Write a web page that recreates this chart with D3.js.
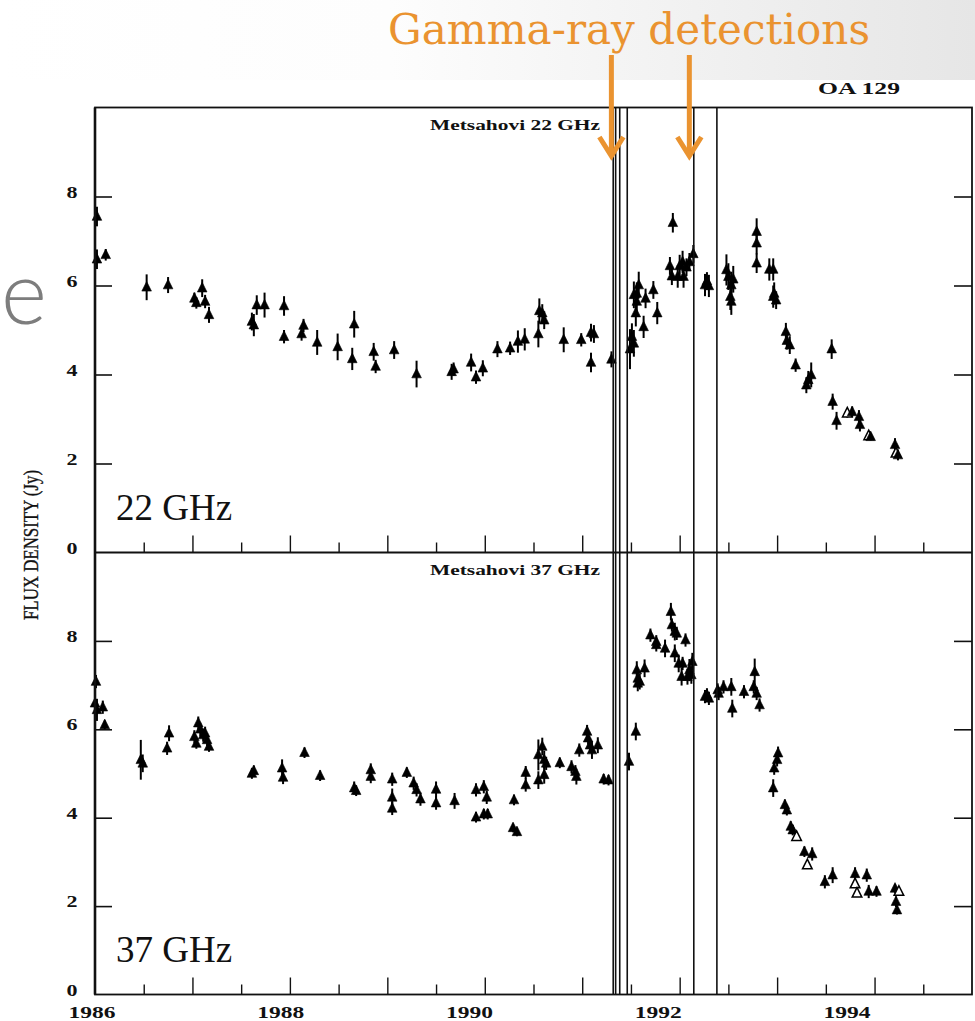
<!DOCTYPE html>
<html>
<head>
<meta charset="utf-8">
<script src="https://cdn.jsdelivr.net/npm/d3@7"></script>
<style>
  html, body { margin: 0; padding: 0; background: #fff; }
  svg { display: block; }
</style>
</head>
<body>
<script>
// Metsahovi monitoring of OA 129: flux density at 22 and 37 GHz, 1986-1995.
// Each entry: [epoch (yr), flux density (Jy), error (Jy), open symbol flag]
const obs22 = [
  [1986.02, 7.55, 0.22], [1986.02, 6.59, 0.22], [1986.11, 6.69, 0.13],
  [1986.53, 5.96, 0.29], [1986.75, 6.01, 0.18],
  [1987.02, 5.71, 0.13], [1987.04, 5.61, 0.13], [1987.10, 5.94, 0.20],
  [1987.13, 5.64, 0.15], [1987.17, 5.34, 0.18],
  [1987.61, 5.19, 0.20], [1987.63, 5.11, 0.25], [1987.66, 5.56, 0.22],
  [1987.74, 5.56, 0.28], [1987.94, 5.54, 0.22], [1987.94, 4.85, 0.15],
  [1988.12, 4.91, 0.15], [1988.14, 5.10, 0.15], [1988.28, 4.72, 0.28],
  [1988.49, 4.62, 0.30], [1988.64, 4.35, 0.25], [1988.66, 5.13, 0.30],
  [1988.86, 4.51, 0.20], [1988.88, 4.18, 0.15], [1989.07, 4.55, 0.20],
  [1989.30, 4.01, 0.30], [1989.66, 4.06, 0.18], [1989.68, 4.12, 0.15],
  [1989.86, 4.27, 0.20], [1989.91, 3.94, 0.15], [1989.98, 4.14, 0.18],
  [1990.13, 4.57, 0.18], [1990.26, 4.59, 0.15], [1990.34, 4.74, 0.25],
  [1990.41, 4.79, 0.25], [1990.56, 5.43, 0.28], [1990.55, 4.91, 0.30],
  [1990.59, 5.38, 0.20], [1990.61, 5.22, 0.20], [1990.81, 4.78, 0.28],
  [1990.99, 4.78, 0.15], [1991.09, 4.94, 0.20], [1991.12, 4.91, 0.20],
  [1991.09, 4.27, 0.22], [1991.30, 4.34, 0.18],
  [1991.49, 4.57, 0.45], [1991.53, 4.70, 0.30], [1991.51, 4.85, 0.30],
  [1991.53, 5.79, 0.30], [1991.56, 5.82, 0.25], [1991.58, 6.01, 0.30],
  [1991.56, 5.64, 0.30], [1991.55, 5.38, 0.30], [1991.63, 5.07, 0.25],
  [1991.65, 5.71, 0.22], [1991.73, 5.90, 0.20], [1991.77, 5.38, 0.25],
  [1991.93, 7.41, 0.22], [1991.90, 6.44, 0.20], [1991.92, 6.21, 0.20],
  [1991.98, 6.20, 0.25], [1992.00, 6.44, 0.25], [1992.03, 6.53, 0.25],
  [1992.04, 6.20, 0.25], [1992.07, 6.41, 0.20], [1992.10, 6.53, 0.20],
  [1992.14, 6.71, 0.20], [1992.26, 6.01, 0.25], [1992.30, 5.99, 0.25],
  [1992.28, 6.10, 0.20],
  [1992.48, 6.35, 0.35], [1992.50, 6.20, 0.30], [1992.53, 6.01, 0.30],
  [1992.55, 6.14, 0.30], [1992.52, 5.75, 0.30], [1992.53, 5.64, 0.30],
  [1992.79, 7.21, 0.30], [1992.79, 6.95, 0.25], [1992.79, 6.50, 0.22],
  [1992.92, 6.36, 0.25], [1992.96, 6.36, 0.25], [1992.97, 5.82, 0.25],
  [1992.99, 5.67, 0.20], [1992.96, 5.75, 0.25],
  [1993.09, 4.96, 0.20], [1993.10, 4.76, 0.20], [1993.13, 4.66, 0.20],
  [1993.19, 4.21, 0.15], [1993.30, 3.76, 0.18], [1993.32, 3.88, 0.20],
  [1993.35, 3.99, 0.28], [1993.56, 4.57, 0.22], [1993.57, 3.39, 0.18],
  [1993.61, 2.96, 0.20], [1993.72, 3.13, 0.10, 1], [1993.77, 3.16, 0.12],
  [1993.84, 3.05, 0.15], [1993.85, 2.87, 0.15], [1993.94, 2.62, 0.08, 1],
  [1993.96, 2.60, 0.08], [1994.21, 2.42, 0.15], [1994.22, 2.23, 0.10, 1],
  [1994.24, 2.19, 0.12]
];

const obs37 = [
  [1986.01, 7.08, 0.15], [1986.00, 6.59, 0.20], [1986.02, 6.44, 0.25],
  [1986.08, 6.50, 0.15], [1986.10, 6.10, 0.10],
  [1986.47, 5.31, 0.45], [1986.49, 5.23, 0.20],
  [1986.76, 5.91, 0.18], [1986.74, 5.57, 0.15],
  [1987.02, 5.83, 0.15], [1987.06, 6.14, 0.15], [1987.08, 6.00, 0.15],
  [1987.04, 5.68, 0.12], [1987.11, 5.87, 0.15], [1987.15, 5.76, 0.15],
  [1987.17, 5.61, 0.12], [1987.13, 5.91, 0.15],
  [1987.61, 5.00, 0.12], [1987.63, 5.06, 0.12],
  [1987.92, 5.12, 0.20], [1987.93, 4.91, 0.15],
  [1988.15, 5.47, 0.12], [1988.31, 4.95, 0.12],
  [1988.66, 4.67, 0.15], [1988.68, 4.61, 0.12],
  [1988.83, 5.08, 0.15], [1988.83, 4.93, 0.15],
  [1989.05, 4.87, 0.15], [1989.05, 4.46, 0.20], [1989.05, 4.21, 0.15],
  [1989.20, 5.02, 0.12], [1989.27, 4.78, 0.15], [1989.30, 4.63, 0.15],
  [1989.34, 4.42, 0.15], [1989.50, 4.64, 0.18], [1989.50, 4.33, 0.15],
  [1989.69, 4.38, 0.18], [1989.91, 4.63, 0.15], [1989.99, 4.70, 0.15],
  [1990.02, 4.46, 0.15], [1989.91, 4.01, 0.12], [1989.99, 4.08, 0.12],
  [1990.03, 4.08, 0.12], [1990.30, 4.40, 0.12], [1990.29, 3.77, 0.10],
  [1990.33, 3.68, 0.10], [1990.42, 5.02, 0.15], [1990.42, 4.74, 0.15],
  [1990.55, 5.42, 0.35], [1990.55, 4.85, 0.20],
  [1990.59, 5.61, 0.20], [1990.61, 5.31, 0.20], [1990.63, 5.23, 0.15],
  [1990.61, 4.97, 0.20], [1990.77, 5.24, 0.12], [1990.89, 5.15, 0.15],
  [1990.93, 5.04, 0.15], [1990.94, 4.93, 0.18], [1990.97, 5.53, 0.15],
  [1991.05, 5.95, 0.15], [1991.06, 5.80, 0.15], [1991.08, 5.64, 0.15],
  [1991.10, 5.53, 0.20], [1991.16, 5.64, 0.18],
  [1991.22, 4.87, 0.12], [1991.27, 4.85, 0.12],
  [1991.48, 5.27, 0.20], [1991.55, 5.95, 0.20],
  [1991.56, 7.34, 0.20], [1991.57, 7.15, 0.20], [1991.57, 7.04, 0.18],
  [1991.59, 7.08, 0.18], [1991.64, 7.38, 0.20],
  [1991.70, 8.13, 0.15], [1991.76, 7.98, 0.15], [1991.76, 7.91, 0.15],
  [1991.85, 7.83, 0.20], [1991.91, 8.66, 0.20], [1991.92, 8.36, 0.15],
  [1991.95, 8.21, 0.20], [1991.97, 8.17, 0.15], [1991.95, 7.72, 0.20],
  [1991.99, 7.49, 0.20], [1992.02, 7.19, 0.20], [1992.03, 7.49, 0.15],
  [1992.06, 8.02, 0.15], [1992.08, 7.19, 0.18], [1992.10, 7.34, 0.25],
  [1992.12, 7.23, 0.20], [1992.13, 7.53, 0.20],
  [1992.26, 6.74, 0.15], [1992.28, 6.78, 0.15], [1992.30, 6.70, 0.15],
  [1992.39, 6.89, 0.15], [1992.40, 6.81, 0.15], [1992.45, 6.96, 0.15],
  [1992.53, 6.96, 0.20], [1992.54, 6.47, 0.20], [1992.66, 6.85, 0.15],
  [1992.77, 7.30, 0.30], [1992.76, 6.96, 0.15], [1992.79, 6.81, 0.15],
  [1992.82, 6.55, 0.15],
  [1993.01, 5.46, 0.15], [1993.00, 5.31, 0.15], [1992.97, 5.12, 0.15],
  [1992.96, 4.67, 0.20], [1993.08, 4.29, 0.12], [1993.10, 4.17, 0.12],
  [1993.14, 3.80, 0.12], [1993.16, 3.72, 0.12], [1993.20, 3.57, 0.06, 1],
  [1993.28, 3.23, 0.12], [1993.31, 2.93, 0.05, 1], [1993.36, 3.18, 0.15],
  [1993.49, 2.55, 0.15], [1993.57, 2.70, 0.18],
  [1993.80, 2.73, 0.15], [1993.80, 2.50, 0.05, 1], [1993.82, 2.29, 0.05, 1],
  [1993.92, 2.70, 0.15], [1993.94, 2.33, 0.15], [1994.02, 2.33, 0.12],
  [1994.21, 2.40, 0.10], [1994.25, 2.33, 0.05, 1], [1994.22, 2.10, 0.12],
  [1994.23, 1.91, 0.10]
];

// Edges of the gamma-ray observing windows (yr)
const gammaLines = [1991.318, 1991.343, 1991.385, 1991.462, 1992.145, 1992.382];
// Detections marked with arrows (yr)
const gammaArrows = [1991.33, 1992.13];

const yearLabels = [1986, 1988, 1990, 1992, 1994];
const fluxTicks = [2, 4, 6, 8];
const fluxLabels = [0, 2, 4, 6, 8];

const panels = [
  { title: "Metsahovi 22 GHz", band: "22 GHz", data: obs22 },
  { title: "Metsahovi 37 GHz", band: "37 GHz", data: obs37 }
];

const W = 975, H = 1021;
const orange = "#EA9330";
const serif = "'Liberation Serif', 'Times New Roman', serif";

const svg = d3.select("body").append("svg")
  .attr("width", W).attr("height", H)
  .attr("viewBox", `0 0 ${W} ${H}`);

// Slide background: light grey wash at the upper right
const defs = svg.append("defs");
const grad = defs.append("linearGradient").attr("id", "wash")
  .attr("x1", "0").attr("y1", "0").attr("x2", "1").attr("y2", "0");
grad.append("stop").attr("offset", "0").attr("stop-color", "#ffffff");
grad.append("stop").attr("offset", "0.4").attr("stop-color", "#fdfdfd");
grad.append("stop").attr("offset", "1").attr("stop-color", "#e6e6e6");
svg.append("rect").attr("width", W).attr("height", H).attr("fill", "#fff");
svg.append("rect").attr("x", 0).attr("y", 0).attr("width", W).attr("height", 80)
  .attr("fill", "url(#wash)");

// Slide title letter peeking in on the left
svg.append("text")
  .attr("x", 1).attr("y", 324)
  .attr("font-family", "Lato, 'Open Sans', sans-serif")
  .attr("font-weight", 300)
  .attr("font-size", 88)
  .attr("fill", "#7d7d7d")
  .text("e");

// Scales
const x = d3.scaleLinear().domain([1986, 1995]).range([95, 972]);
const xLabel = d3.scaleLinear().domain([1986, 1994]).range([92, 847]);
const yTop = d3.scaleLinear().domain([0, 10]).range([552.5, 107.5]);
const yBot = d3.scaleLinear().domain([0, 10]).range([994.5, 552.5]);
const yScales = [yTop, yBot];

const halfYears = d3.range(1986.5, 1995, 0.5);
const wholeYears = halfYears.filter(d => Number.isInteger(d));
const midYears = halfYears.filter(d => !Number.isInteger(d));

const tri = "M0,-5.8L4.8,3.8L-4.8,3.8Z";

panels.forEach((p, i) => {
  const y = yScales[i];
  const g = svg.append("g");

  // inward ticks on left and right
  g.append("g").attr("transform", `translate(${x(1986)},0)`)
    .call(d3.axisLeft(y).tickValues(fluxTicks).tickSize(-17).tickFormat(""))
    .call(a => a.select(".domain").remove())
    .call(a => a.selectAll("line").attr("stroke", "#111").attr("stroke-width", 1.6));
  g.append("g").attr("transform", `translate(${x(1995)},0)`)
    .call(d3.axisRight(y).tickValues(fluxTicks).tickSize(-18).tickFormat(""))
    .call(a => a.select(".domain").remove())
    .call(a => a.selectAll("line").attr("stroke", "#111").attr("stroke-width", 1.6));

  // time ticks on the lower edge of each panel
  g.append("g").attr("transform", `translate(0,${y(0)})`)
    .call(d3.axisBottom(x).tickValues(wholeYears).tickSize(-17).tickFormat(""))
    .call(a => a.select(".domain").remove())
    .call(a => a.selectAll("line").attr("stroke", "#111").attr("stroke-width", 1.4));
  g.append("g").attr("transform", `translate(0,${y(0)})`)
    .call(d3.axisBottom(x).tickValues(midYears).tickSize(-10).tickFormat(""))
    .call(a => a.select(".domain").remove())
    .call(a => a.selectAll("line").attr("stroke", "#111").attr("stroke-width", 1.4));

  // flux labels
  g.selectAll("text.fl").data(fluxLabels).join("text")
    .attr("class", "fl")
    .attr("x", 72).attr("y", d => y(d) + 1)
    .attr("text-anchor", "middle")
    .attr("font-family", serif).attr("font-weight", "bold")
    .attr("font-size", 16)
    .attr("textLength", 11).attr("lengthAdjust", "spacingAndGlyphs")
    .attr("fill", "#111")
    .text(d => d);

  // panel title
  g.append("text")
    .attr("x", 430).attr("y", y(10) + 22)
    .attr("font-family", serif).attr("font-weight", "bold")
    .attr("font-size", 15)
    .attr("textLength", 170).attr("lengthAdjust", "spacingAndGlyphs")
    .attr("fill", "#111")
    .text(p.title);

  // band label
  g.append("text")
    .attr("x", 116).attr("y", y(0) - 33)
    .attr("font-family", serif)
    .attr("font-size", 37)
    .attr("fill", "#111")
    .text(p.band);

  // observations: error bar with triangle symbol
  const pts = g.selectAll("g.obs").data(p.data).join("g")
    .attr("class", "obs")
    .attr("transform", d => `translate(${x(d[0])},${y(d[1])})`);
  pts.append("line")
    .attr("x1", 0).attr("x2", 0)
    .attr("y1", d => y(d[1] + d[2]) - y(d[1]))
    .attr("y2", d => y(d[1] - d[2]) - y(d[1]))
    .attr("stroke", "#000").attr("stroke-width", 2);
  pts.append("path")
    .attr("d", tri)
    .attr("fill", d => d[3] ? "#fff" : "#000")
    .attr("stroke", "#000")
    .attr("stroke-width", d => d[3] ? 1.5 : 0.6);
});

// gamma-ray window edges across both panels
svg.append("g").selectAll("line").data(gammaLines).join("line")
  .attr("x1", d => x(d)).attr("x2", d => x(d))
  .attr("y1", yTop(10)).attr("y2", yBot(0))
  .attr("stroke", "#111").attr("stroke-width", 1.6);

// frame
const frame = svg.append("g").attr("fill", "none").attr("stroke", "#111");
frame.append("rect")
  .attr("x", x(1986)).attr("y", yTop(10))
  .attr("width", x(1995) - x(1986)).attr("height", yBot(0) - yTop(10))
  .attr("stroke-width", 1.8);
frame.append("line")
  .attr("x1", x(1986)).attr("x2", x(1995))
  .attr("y1", yTop(0)).attr("y2", yTop(0))
  .attr("stroke-width", 1.8);
frame.append("line")
  .attr("x1", x(1986)).attr("x2", x(1986))
  .attr("y1", yTop(10)).attr("y2", yBot(0))
  .attr("stroke-width", 2.6);

// year labels
svg.append("g").selectAll("text").data(yearLabels).join("text")
  .attr("x", d => xLabel(d)).attr("y", 1018)
  .attr("text-anchor", "middle")
  .attr("font-family", serif).attr("font-weight", "bold")
  .attr("font-size", 16)
  .attr("textLength", 47).attr("lengthAdjust", "spacingAndGlyphs")
  .attr("fill", "#111")
  .text(d => d);

// y-axis title
svg.append("text")
  .attr("transform", `translate(38,545) rotate(-90)`)
  .attr("text-anchor", "middle")
  .attr("font-family", serif)
  .attr("font-size", 20)
  .attr("stroke", "#111").attr("stroke-width", 0.35)
  .attr("textLength", 150).attr("lengthAdjust", "spacingAndGlyphs")
  .attr("fill", "#111")
  .text("FLUX DENSITY (Jy)");

// source name
svg.append("text")
  .attr("x", 818).attr("y", 94)
  .attr("font-family", serif).attr("font-weight", "bold")
  .attr("font-size", 16)
  .attr("textLength", 82).attr("lengthAdjust", "spacingAndGlyphs")
  .attr("fill", "#111")
  .text("OA 129");

// annotation
svg.append("text")
  .attr("x", 388).attr("y", 44)
  .attr("font-family", "'DejaVu Serif', serif")
  .attr("font-size", 42)
  .attr("textLength", 482).attr("lengthAdjust", "spacingAndGlyphs")
  .attr("fill", orange)
  .text("Gamma-ray detections");

const arrows = svg.append("g").attr("stroke", orange).attr("fill", "none")
  .attr("stroke-width", 5).attr("stroke-linecap", "butt");
gammaArrows.forEach(t => {
  const ax = x(t) - 3;
  arrows.append("line").attr("x1", ax).attr("x2", ax).attr("y1", 55).attr("y2", 155);
  arrows.append("path")
    .attr("d", `M${ax - 12},${137}L${ax},${156}L${ax + 12},${137}`)
    .attr("stroke-linejoin", "miter");
});
</script>
</body>
</html>
